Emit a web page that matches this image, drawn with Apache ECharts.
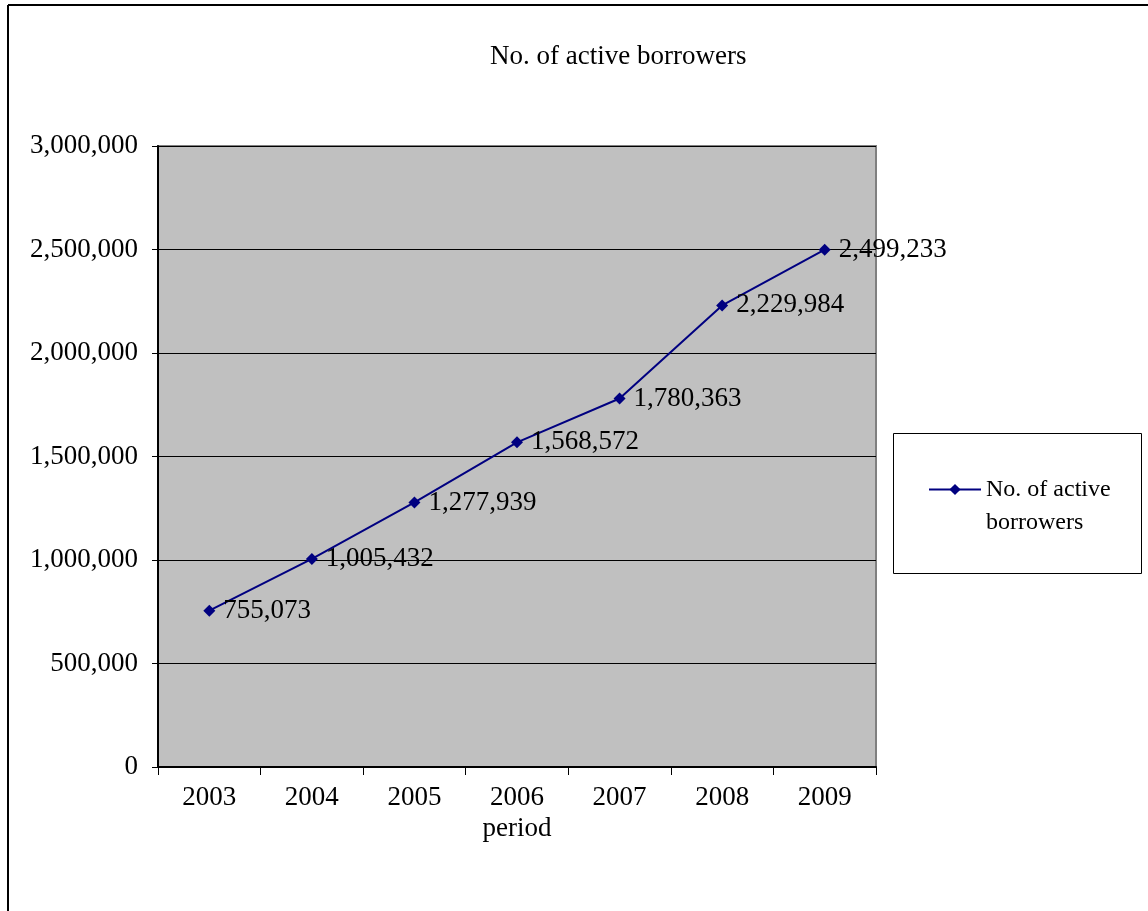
<!DOCTYPE html>
<html>
<head>
<meta charset="utf-8">
<script src="https://cdn.jsdelivr.net/npm/echarts@6/dist/echarts.min.js"></script>
<style>html,body{margin:0;padding:0;background:#fff}#c{width:1148px;height:911px}</style>
</head>
<body>
<div id="c"></div>
<script>
const categories = ['2003', '2004', '2005', '2006', '2007', '2008', '2009'];
const borrowers = [755073, 1005432, 1277939, 1568572, 1780363, 2229984, 2499233];
const seriesName = 'No. of active borrowers';
const titleText = 'No. of active borrowers';
const xAxisName = 'period';
const yTicks = { min: 0, max: 3000000, interval: 500000 };

const FONT = '"Liberation Serif", "Times New Roman", serif';
const fmt = v => Number(v).toLocaleString('en-US');

const chart = echarts.init(document.getElementById('c'), null, { renderer: 'canvas' });
chart.setOption({
  animation: false,
  backgroundColor: '#ffffff',
  textStyle: { fontFamily: FONT, color: '#000' },
  title: {
    text: titleText,
    left: 485, top: 38,
    textStyle: { fontFamily: FONT, fontSize: 27, fontWeight: 'normal', color: '#000' }
  },
  grid: {
    left: 158, right: 272, top: 146, bottom: 144,
    show: true, backgroundColor: '#c0c0c0', borderColor: '#808080', borderWidth: 2
  },
  legend: {
    left: 928, top: 440, padding: 0,
    itemWidth: 52, itemHeight: 14, itemGap: 0,
    formatter: () => ' \nNo. of active\nborrowers',
    textStyle: { fontFamily: FONT, fontSize: 24, color: '#000', lineHeight: 33 },
    data: [seriesName]
  },
  xAxis: {
    type: 'category', data: categories, boundaryGap: true,
    name: xAxisName, nameLocation: 'middle', nameGap: 47,
    nameTextStyle: { fontFamily: FONT, fontSize: 27, color: '#000' },
    axisLine: { show: true, lineStyle: { color: '#000', width: 2 } },
    axisTick: { show: true, length: 8, alignWithLabel: false, lineStyle: { color: '#000' } },
    axisLabel: { fontFamily: FONT, fontSize: 27, color: '#000', margin: 17 },
    splitLine: { show: false }
  },
  yAxis: {
    type: 'value', min: yTicks.min, max: yTicks.max, interval: yTicks.interval,
    axisLine: { show: true, lineStyle: { color: '#000', width: 2 } },
    axisTick: { show: true, length: 6, lineStyle: { color: '#000' } },
    axisLabel: { fontFamily: FONT, fontSize: 27, color: '#000', margin: 20, formatter: v => fmt(v) },
    splitLine: { show: true, lineStyle: { color: '#000', width: 1 } }
  },
  series: [{
    name: seriesName,
    type: 'line',
    data: borrowers,
    symbol: 'diamond', symbolSize: 12,
    lineStyle: { color: '#000080', width: 2 },
    itemStyle: { color: '#000080' },
    label: {
      show: true, position: 'right', distance: 8,
      fontFamily: FONT, fontSize: 27, color: '#000',
      formatter: p => fmt(p.value)
    },
    z: 3
  }],
  graphic: [
    { type: 'line', shape: { x1: 8, y1: 5, x2: 8, y2: 911 }, style: { stroke: '#000', lineWidth: 2 } },
    { type: 'line', shape: { x1: 8, y1: 5, x2: 1148, y2: 5 }, style: { stroke: '#000', lineWidth: 2 } },
    { type: 'rect', shape: { x: 893.5, y: 433.5, width: 248, height: 140 }, style: { fill: 'none', stroke: '#000', lineWidth: 1 } }
  ]
});
</script>
</body>
</html>
